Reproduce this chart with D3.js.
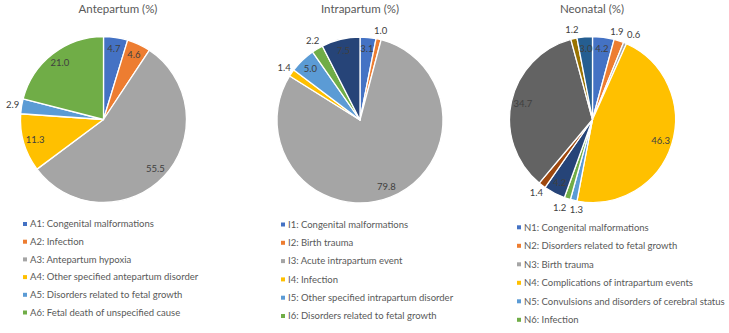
<!DOCTYPE html>
<html>
<head>
<meta charset="utf-8">
<script src="https://cdn.jsdelivr.net/npm/d3@7"></script>
<style>
  html, body { margin: 0; padding: 0; background: #ffffff; }
  svg { display: block; }
</style>
</head>
<body>
<svg id="chart" width="729" height="333"></svg>
<script>
// ---------- data ----------
const anteTitle = "Antepartum (%)";
const anteCategories = [
  "A1: Congenital malformations",
  "A2: Infection",
  "A3: Antepartum hypoxia",
  "A4: Other specified antepartum disorder",
  "A5: Disorders related to fetal growth",
  "A6: Fetal death of unspecified cause"
];
const anteValues = [4.7, 4.6, 55.5, 11.3, 2.9, 21.0];

const intraTitle = "Intrapartum (%)";
const intraCategories = [
  "I1: Congenital malformations",
  "I2: Birth trauma",
  "I3: Acute intrapartum event",
  "I4: Infection",
  "I5: Other specified intrapartum disorder",
  "I6: Disorders related to fetal growth"
];
const intraValues = [3.1, 1.0, 79.8, 1.4, 5.0, 2.2, 7.5];

const neoTitle = "Neonatal (%)";
const neoCategories = [
  "N1: Congenital malformations",
  "N2: Disorders related to fetal growth",
  "N3: Birth trauma",
  "N4: Complications of intrapartum events",
  "N5: Convulsions and disorders of cerebral status",
  "N6: Infection"
];
const neoValues = [4.2, 1.9, 0.6, 46.3, 1.3, 1.2, 4.2, 1.4, 34.7, 1.2, 3.0];

const palette = ["#4472C4", "#ED7D31", "#A5A5A5", "#FFC000", "#5B9BD5", "#70AD47",
                 "#264478", "#9E480E", "#636363", "#997300", "#255E91"];

// ---------- layout ----------
const FONT = "Lato, 'Open Sans', 'Noto Sans', sans-serif";
const R = 83;
const panels = [
  { title: anteTitle, cats: anteCategories, values: anteValues,
    cx: 103.5, cy: 119.5, tx: 118, legX: 23, legY: 224, legStep: 17.7 },
  { title: intraTitle, cats: intraCategories, values: intraValues,
    cx: 360, cy: 120, tx: 360, legX: 281, legY: 224.5, legStep: 18.3 },
  { title: neoTitle, cats: neoCategories, values: neoValues,
    cx: 592.5, cy: 119.5, tx: 592, legX: 517, legY: 227.3, legStep: 18.5 }
];

const svg = d3.select("#chart");
const color = d3.scaleOrdinal().domain(d3.range(palette.length)).range(palette);
const pie = d3.pie().sort(null).value(d => d);
const arc = d3.arc().innerRadius(0).outerRadius(R);
const inArc = d3.arc().innerRadius(R * 0.86).outerRadius(R * 0.86);
const outArc = d3.arc().innerRadius(R * 1.11).outerRadius(R * 1.11);
const edgeArc = d3.arc().innerRadius(R * 1.01).outerRadius(R * 1.01);

panels.forEach(p => {
  const g = svg.append("g");

  g.append("text")
    .attr("x", p.tx).attr("y", 13)
    .attr("text-anchor", "middle")
    .attr("font-family", FONT).attr("font-size", 11.5)
    .attr("fill", "#595959")
    .text(p.title);

  const pg = g.append("g").attr("transform", `translate(${p.cx},${p.cy})`);
  const arcs = pie(p.values);

  pg.selectAll("path.slice").data(arcs).enter().append("path")
    .attr("class", "slice")
    .attr("d", arc)
    .attr("fill", (d, i) => color(i))
    .attr("stroke", "#ffffff")
    .attr("stroke-width", 1.3)
    .attr("stroke-linejoin", "round");

  // labels
  const labels = arcs.map((d, i) => {
    const inside = d.data >= 3;
    const c = inside ? inArc.centroid(d) : outArc.centroid(d);
    return { d, i, inside, x: c[0], y: c[1], x0: c[0], w: 15, text: d.data.toFixed(1) };
  });
  // simple horizontal relaxation for overlapping outside labels
  const outs = labels.filter(l => !l.inside);
  for (let iter = 0; iter < 60; iter++) {
    for (let a = 0; a < outs.length; a++) {
      for (let b = a + 1; b < outs.length; b++) {
        const A = outs[a], B = outs[b];
        const dx = B.x - A.x, dy = B.y - A.y;
        const needX = (A.w + B.w) / 2 + 1.5;
        if (Math.abs(dy) < 9 && Math.abs(dx) < needX) {
          const push = (needX - Math.abs(dx)) / 2 + 0.1;
          const s = dx === 0 ? 1 : Math.sign(dx);
          A.x -= s * push; B.x += s * push;
        }
      }
    }
  }
  outs.forEach(l => {
    if (Math.abs(l.x - l.x0) > 5) {
      const e = edgeArc.centroid(l.d);
      pg.append("line")
        .attr("x1", e[0]).attr("y1", e[1])
        .attr("x2", l.x - Math.sign(l.x - l.x0) * 3).attr("y2", l.y - 4)
        .attr("stroke", "#a6a6a6").attr("stroke-width", 0.6);
    }
  });
  pg.selectAll("text.lbl").data(labels).enter().append("text")
    .attr("class", "lbl")
    .attr("x", l => l.x).attr("y", l => l.y)
    .attr("dy", "0.35em")
    .attr("text-anchor", "middle")
    .attr("font-family", FONT).attr("font-size", 9.5)
    .attr("fill", "#404040")
    .text(l => l.text);

  // legend
  const lg = g.append("g");
  const rows = lg.selectAll("g.row").data(p.cats).enter().append("g")
    .attr("class", "row")
    .attr("transform", (d, i) => `translate(${p.legX},${p.legY + i * p.legStep})`);
  rows.append("rect")
    .attr("x", 0).attr("y", -2).attr("width", 4).attr("height", 4)
    .attr("fill", (d, i) => color(i));
  rows.append("text")
    .attr("x", 7).attr("y", 0).attr("dy", "0.35em")
    .attr("font-family", FONT).attr("font-size", 9.5)
    .attr("fill", "#595959")
    .text(d => d);
});
</script>
</body>
</html>
